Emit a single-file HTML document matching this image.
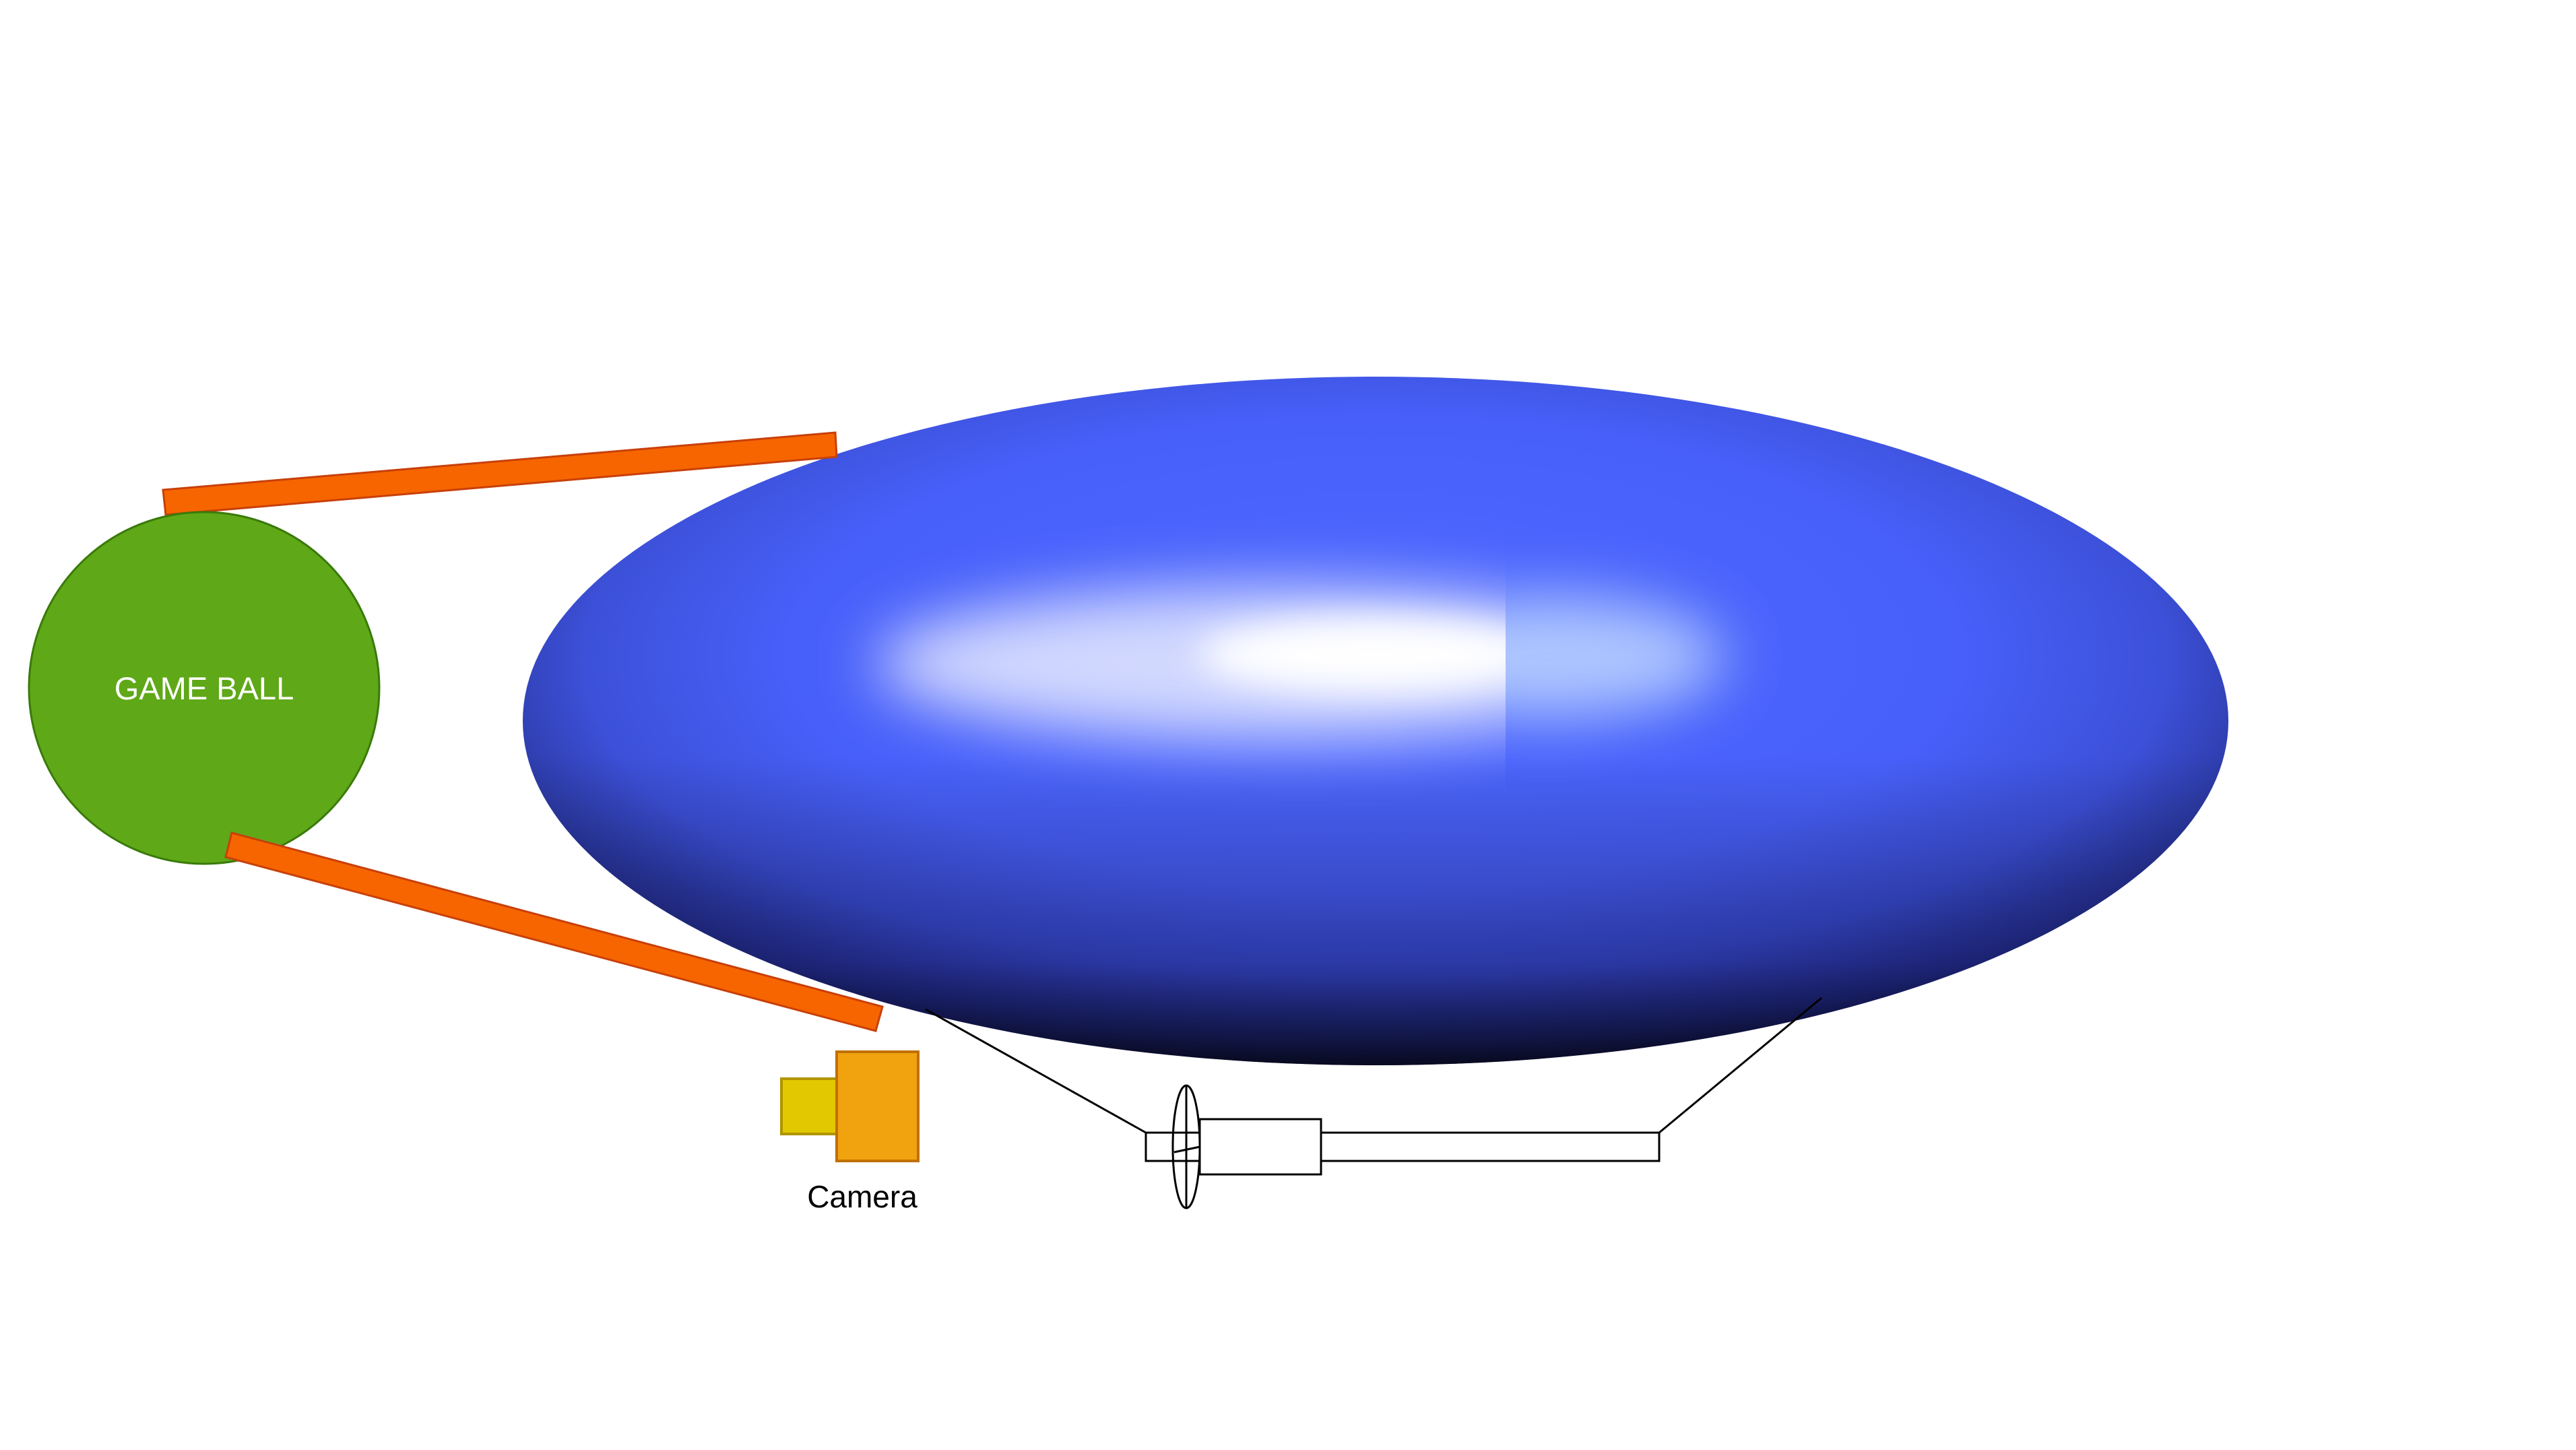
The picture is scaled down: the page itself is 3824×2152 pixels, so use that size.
<!DOCTYPE html>
<html><head><meta charset="utf-8"><style>
html,body{margin:0;padding:0;background:#fff;}
svg{display:block;}
text{font-family:"Liberation Sans",sans-serif;}
</style></head><body>
<svg width="3824" height="2152" viewBox="0 0 3824 2152">
<defs>
<radialGradient id="bg" cx="0.5" cy="0.42" r="0.62" fx="0.5" fy="0.38">
<stop offset="0" stop-color="#4d68ff"/>
<stop offset="0.55" stop-color="#4860fa"/>
<stop offset="0.75" stop-color="#3c50d8"/>
<stop offset="0.9" stop-color="#25308e"/>
<stop offset="1" stop-color="#0c0c2c"/>
</radialGradient>
<linearGradient id="shade" x1="0" y1="0" x2="0" y2="1">
<stop offset="0" stop-color="#000" stop-opacity="0"/>
<stop offset="0.55" stop-color="#000" stop-opacity="0"/>
<stop offset="0.85" stop-color="#0a0a40" stop-opacity="0.35"/>
<stop offset="1" stop-color="#000" stop-opacity="0.7"/>
</linearGradient>
<filter id="blur1" x="-50%" y="-100%" width="200%" height="300%"><feGaussianBlur stdDeviation="45"/></filter>
<filter id="blur2" x="-50%" y="-100%" width="200%" height="300%"><feGaussianBlur stdDeviation="25"/></filter>
<clipPath id="leftclip"><rect x="0" y="0" width="2235" height="2152"/></clipPath>
<clipPath id="rightclip"><rect x="2235" y="0" width="1600" height="2152"/></clipPath>
<clipPath id="blimpclip"><ellipse cx="2042" cy="1070" rx="1266" ry="511"/></clipPath>
</defs>

<g>
<ellipse cx="2042" cy="1070" rx="1266" ry="511" fill="url(#bg)"/>
<ellipse cx="2042" cy="1070" rx="1266" ry="511" fill="url(#shade)"/>
<g clip-path="url(#blimpclip)">
<g clip-path="url(#leftclip)">
<ellipse cx="1900" cy="985" rx="600" ry="115" fill="#ffffff" opacity="0.75" filter="url(#blur1)"/>
<ellipse cx="2040" cy="972" rx="260" ry="55" fill="#ffffff" filter="url(#blur2)"/>
</g>
<g clip-path="url(#rightclip)">
<ellipse cx="2300" cy="975" rx="260" ry="90" fill="#c8e0ff" opacity="0.8" filter="url(#blur1)"/>
</g>
</g>
</g>

<polygon points="242,727 1240,642 1242,678 246,764" fill="#f76500" stroke="#c8400a" stroke-width="3"/>
<g>
<ellipse cx="303" cy="1021" rx="260" ry="261" fill="#5fa818" stroke="#3a7a0a" stroke-width="3"/>
<text x="303" y="1038" font-size="47" fill="#fff" text-anchor="middle">GAME BALL</text>
</g>
<polygon points="344,1236 1310,1494 1300,1530 335,1272" fill="#f76500" stroke="#c8400a" stroke-width="3"/>

<g>
<rect x="1160" y="1601" width="82" height="82" fill="#e2c800" stroke="#b09500" stroke-width="4"/>
<rect x="1242" y="1561" width="121" height="162" fill="#f0a30f" stroke="#c07000" stroke-width="4"/>
<text x="1280" y="1792" font-size="46" fill="#000" text-anchor="middle">Camera</text>
</g>

<g fill="#fff" stroke="#000" stroke-width="3">
<line x1="1374" y1="1498" x2="1701" y2="1681"/>
<line x1="2463" y1="1681" x2="2704" y2="1481"/>
<rect x="1701" y="1681" width="80" height="42"/>
<rect x="1961" y="1681" width="502" height="42"/>
<rect x="1781" y="1661" width="180" height="82"/>
<ellipse cx="1761" cy="1702" rx="20" ry="91" fill="none"/>
<line x1="1761" y1="1611" x2="1761" y2="1793"/>
<line x1="1743" y1="1710" x2="1781" y2="1702"/>
</g>
</svg>
</body></html>
